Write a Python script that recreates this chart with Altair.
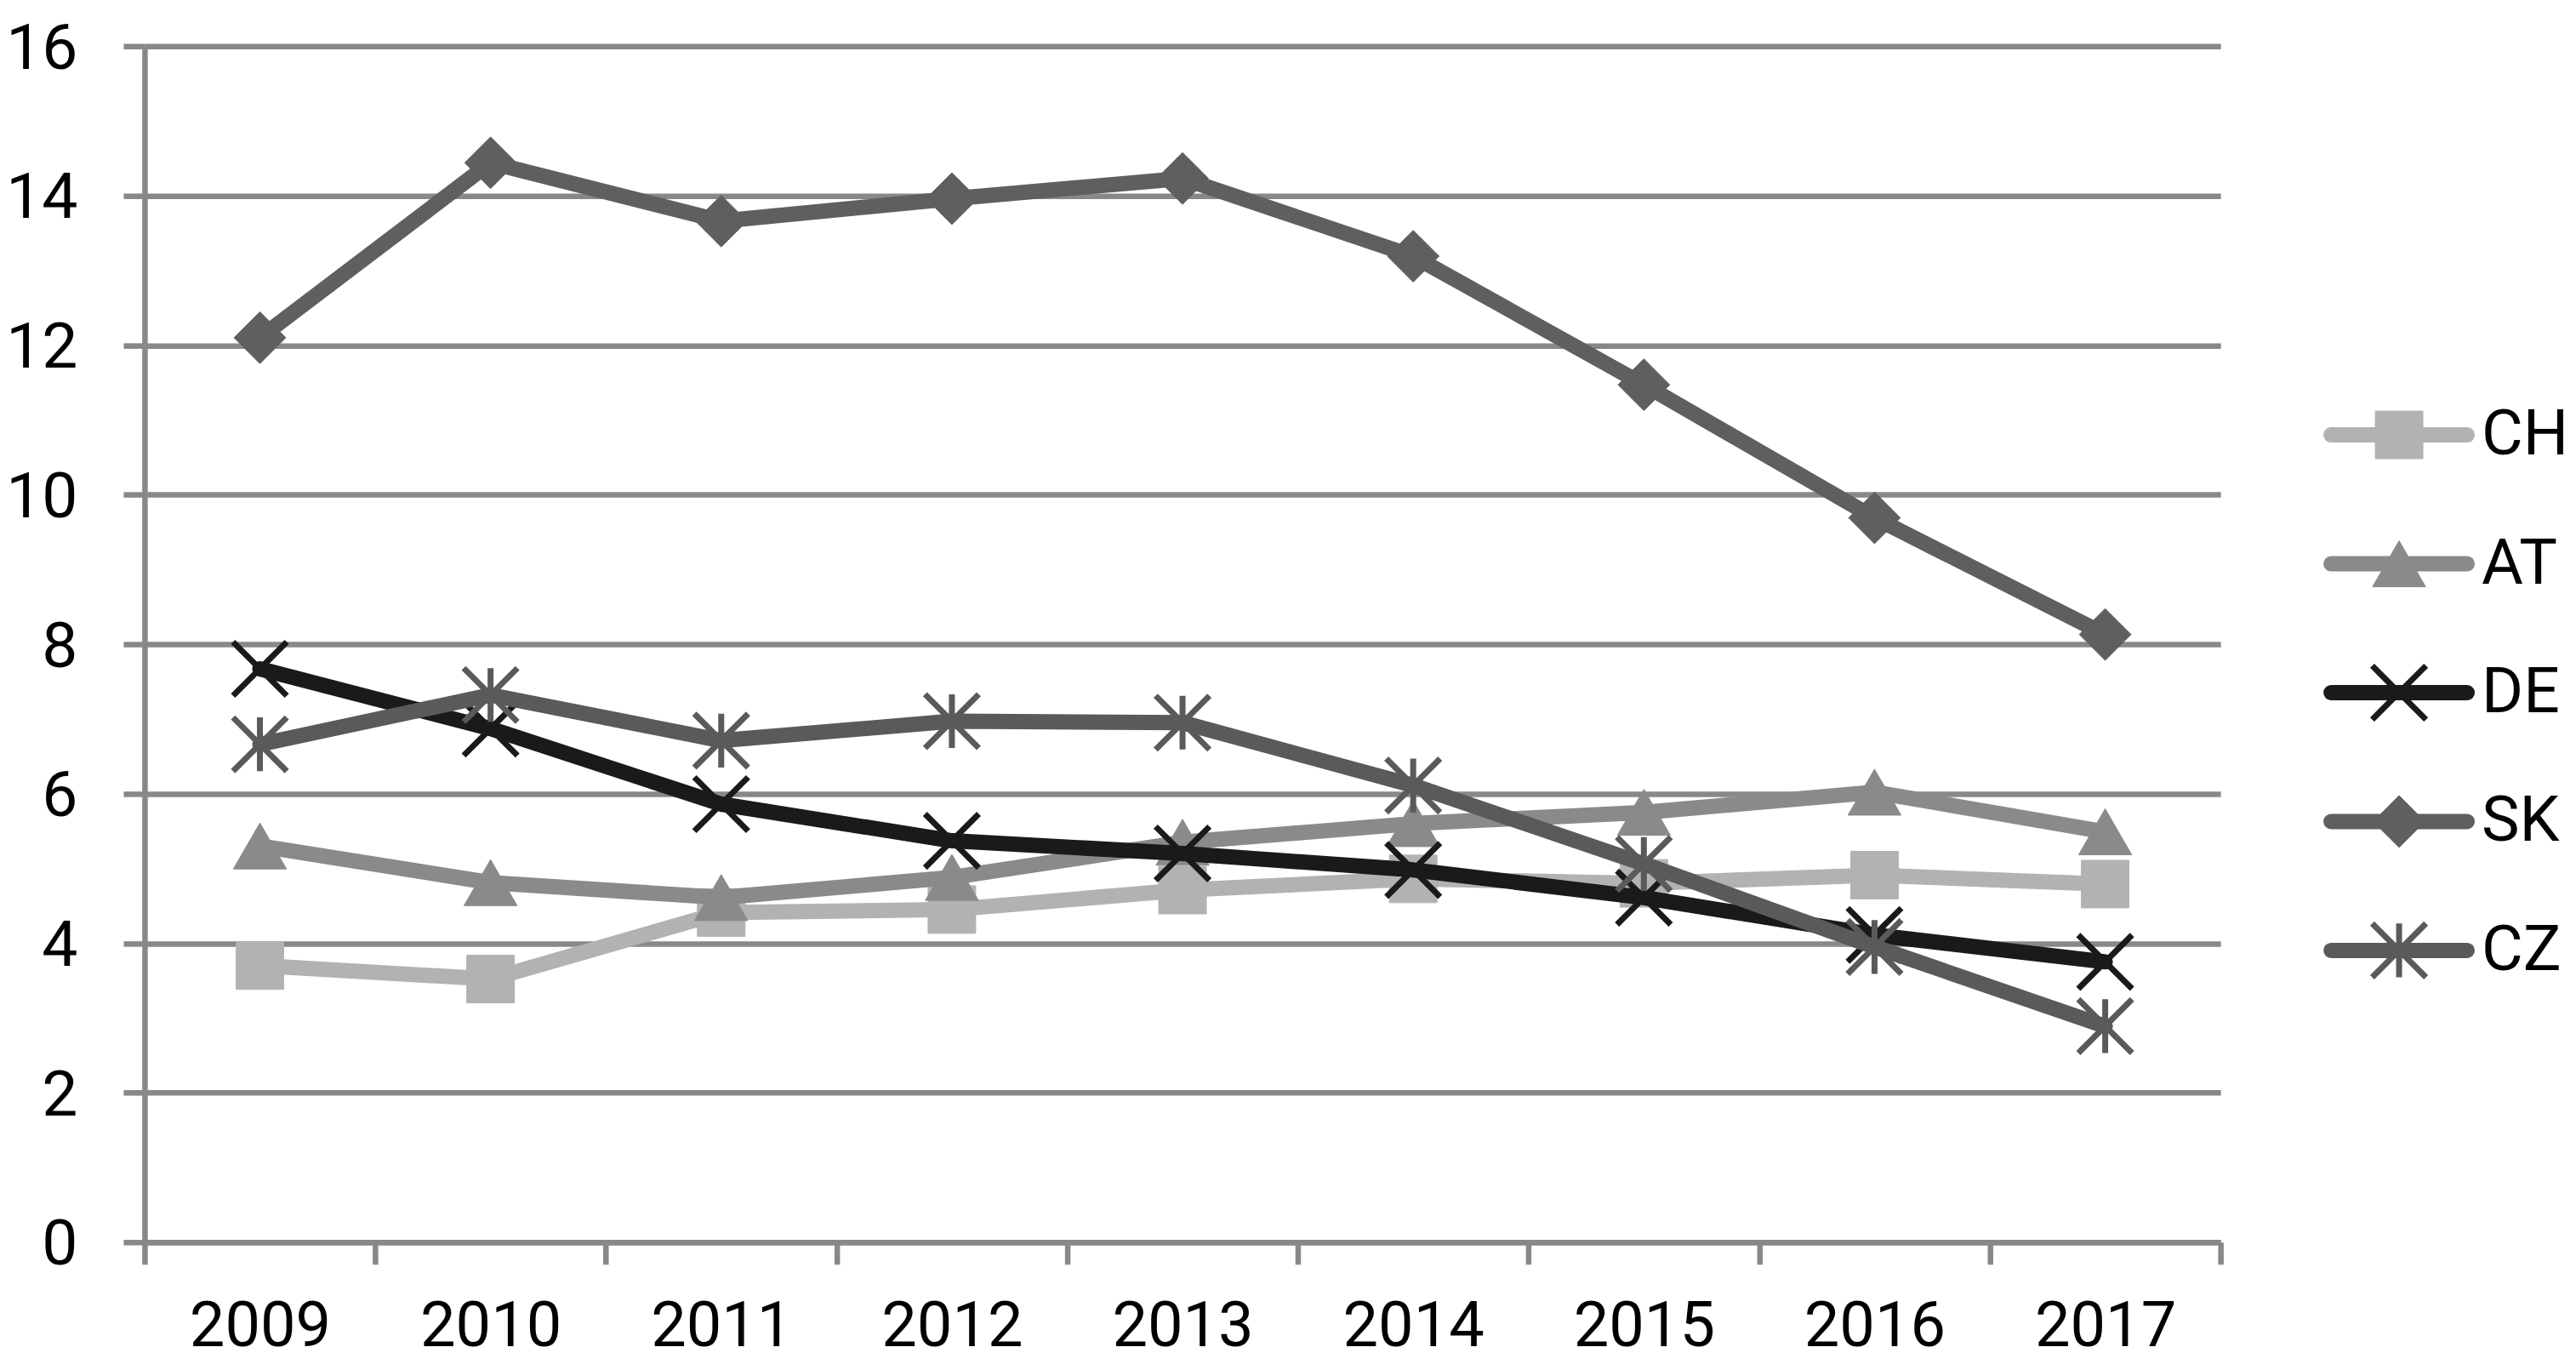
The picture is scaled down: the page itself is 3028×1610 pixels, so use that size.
import altair as alt
import pandas as pd

# ---- data ----
years = [2009, 2010, 2011, 2012, 2013, 2014, 2015, 2016, 2017]
series_names = ["CH", "AT", "DE", "SK", "CZ"]
ch = [3.70, 3.52, 4.41, 4.45, 4.71, 4.86, 4.80, 4.91, 4.79]
at = [5.30, 4.81, 4.61, 4.88, 5.35, 5.60, 5.75, 6.02, 5.49]
de = [7.67, 6.87, 5.86, 5.37, 5.20, 4.98, 4.61, 4.11, 3.75]
sk = [12.10, 14.44, 13.66, 13.96, 14.23, 13.19, 11.47, 9.69, 8.13]
cz = [6.66, 7.32, 6.71, 6.97, 6.95, 6.11, 5.06, 3.95, 2.89]
y_ticks = [0, 2, 4, 6, 8, 10, 12, 14, 16]
x_tick_edges = [2008.5, 2009.5, 2010.5, 2011.5, 2012.5, 2013.5, 2014.5, 2015.5, 2016.5, 2017.5]

values = {"CH": ch, "AT": at, "DE": de, "SK": sk, "CZ": cz}
rows = []
for name in series_names:
    for yr, v in zip(years, values[name]):
        rows.append({"series": name, "year": yr, "value": v})
df = pd.DataFrame(rows)
legend_df = pd.DataFrame({"series": series_names})

# ---- styles ----
colors = {"CH": "#b2b2b2", "AT": "#8a8a8a", "DE": "#1a1a1a", "SK": "#5f5f5f", "CZ": "#5a5a5a"}
X_PATH = "M-1,-1L1,1M1,-1L-1,1"
AST_PATH = "M-1,-1L1,1M1,-1L-1,1M0,-1L0,1"
marker = {
    "CH": dict(shape="square", filled=True, size=3136),
    "AT": dict(shape="triangle-up", filled=True, size=3900),
    "DE": dict(shape=X_PATH, filled=False, size=4000, strokeWidth=7),
    "SK": dict(shape="diamond", filled=True, size=3700),
    "CZ": dict(shape=AST_PATH, filled=False, size=4000, strokeWidth=7),
}

W, H = 2441, 1406
GRID = "#888888"
FONT = "Roboto"
FS = 75

x_enc = alt.X(
    "year:Q",
    scale=alt.Scale(domain=[2008.5, 2017.5], nice=False, zero=False),
    axis=alt.Axis(
        values=x_tick_edges,
        labelExpr="datum.value < 2017 ? toString(datum.value + 0.5) : ''",
        labelOffset=W / 9 / 2,
        labelFlush=False,
        labelOverlap=False,
        labelBaseline="alphabetic",
        grid=False,
        domain=True,
        domainColor=GRID,
        domainWidth=6.5,
        ticks=True,
        tickColor=GRID,
        tickWidth=6.5,
        tickSize=26,
        labelPadding=96,
        labelFont=FONT,
        labelFontSize=74,
        labelColor="#000000",
        title=None,
    ),
)
y_enc = alt.Y(
    "value:Q",
    scale=alt.Scale(domain=[0, 16], nice=False, zero=True),
    axis=alt.Axis(
        values=y_ticks,
        format="d",
        grid=True,
        gridColor=GRID,
        gridWidth=6.5,
        gridOpacity=1,
        domain=True,
        domainColor=GRID,
        domainWidth=6.5,
        ticks=True,
        tickColor=GRID,
        tickWidth=6.5,
        tickSize=25,
        labelPadding=54,
        labelFlush=False,
        labelOverlap=False,
        labelBaseline="alphabetic",
        labelOffset=26,
        labelFont=FONT,
        labelFontSize=FS,
        labelColor="#000000",
        title=None,
    ),
)

legend_y = alt.Y(
    "series:N",
    scale=alt.Scale(type="point", domain=series_names, range=[457, 1063], padding=0),
    axis=None,
)

main_layers = []
legend_layers = []
base = alt.Chart(df)
lbase = alt.Chart(legend_df)
for name in series_names:
    c = colors[name]
    m = marker[name]
    sel = base.transform_filter(alt.datum.series == name)
    main_layers.append(
        sel.mark_line(color=c, strokeWidth=18, strokeJoin="round", strokeCap="round").encode(
            x=x_enc, y=y_enc
        )
    )
    pt_kwargs = dict(shape=m["shape"], size=m["size"], filled=m["filled"], opacity=1)
    if m["filled"]:
        pt_kwargs.update(fill=c, stroke=c, strokeWidth=1)
    else:
        pt_kwargs.update(stroke=c, strokeWidth=m["strokeWidth"], strokeCap="butt")
    main_layers.append(sel.mark_point(**pt_kwargs).encode(x=x_enc, y=y_enc))

    lsel = lbase.transform_filter(alt.datum.series == name)
    legend_layers.append(
        lsel.mark_rule(color=c, strokeWidth=18, strokeCap="round").encode(
            x=alt.value(2571), x2=alt.value(2731), y=legend_y
        )
    )
    legend_layers.append(lsel.mark_point(**pt_kwargs).encode(x=alt.value(2651), y=legend_y))
    legend_layers.append(
        lsel.mark_text(align="left", baseline="middle", font=FONT, fontSize=FS, color="#000000").encode(
            x=alt.value(2748), y=legend_y, text="series:N"
        )
    )

main = alt.layer(*main_layers)
legend = alt.layer(*legend_layers)

chart = (
    alt.layer(main, legend)
    .resolve_scale(y="independent")
    .properties(
        width=W,
        height=H,
        padding={"left": 162, "top": 46, "right": 410, "bottom": 142},
        autosize=alt.AutoSizeParams(type="none"),
        background="white",
    )
    .configure_view(stroke=None)
)

chart.save("out.html", embed_options={"renderer": "svg", "actions": False})
